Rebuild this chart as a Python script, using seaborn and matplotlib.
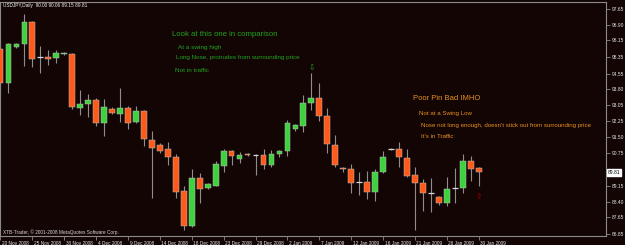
import matplotlib
matplotlib.use("Agg")
import matplotlib.pyplot as plt
import matplotlib.transforms as mtransforms
import numpy as np
import pandas as pd
import seaborn as sns

# ---------------- data ----------------
dates = [
    "2008-11-20", "2008-11-21", "2008-11-23", "2008-11-24", "2008-11-25", "2008-11-26",
    "2008-11-27", "2008-11-28", "2008-11-30", "2008-12-01", "2008-12-02", "2008-12-03",
    "2008-12-04", "2008-12-05", "2008-12-07", "2008-12-08", "2008-12-09", "2008-12-10",
    "2008-12-11", "2008-12-12", "2008-12-14", "2008-12-15", "2008-12-16", "2008-12-17",
    "2008-12-18", "2008-12-19", "2008-12-21", "2008-12-22", "2008-12-23", "2008-12-24",
    "2008-12-26", "2008-12-28", "2008-12-29", "2008-12-30", "2008-12-31", "2009-01-01",
    "2009-01-02", "2009-01-04", "2009-01-05", "2009-01-06", "2009-01-07", "2009-01-08",
    "2009-01-09", "2009-01-11", "2009-01-12", "2009-01-13", "2009-01-14", "2009-01-15",
    "2009-01-16", "2009-01-18", "2009-01-19", "2009-01-20", "2009-01-21", "2009-01-22",
    "2009-01-23", "2009-01-25", "2009-01-26", "2009-01-27", "2009-01-28", "2009-01-29",
    "2009-01-30",
]
opens = [95.73, 94.10, 95.83, 95.97, 97.03, 95.34, 95.35, 95.30, 95.49, 95.49,
         92.90, 93.09, 93.28, 92.18, 92.85, 92.61, 92.90, 92.23, 92.75, 91.36,
         91.12, 90.93, 90.54, 88.91, 87.23, 89.54, 89.06, 89.15, 90.11, 90.83,
         90.45, 90.69, 90.64, 90.64, 90.16, 90.69, 90.83, 91.89, 92.03, 93.14,
         93.38, 92.51, 91.12, 90.02, 89.97, 89.34, 89.35, 88.87, 89.83, 90.92,
         90.93, 90.50, 89.68, 89.30, 88.80, 88.63, 88.34, 89.05, 89.06, 90.35,
         90.00]
highs = [96.21, 96.02, 96.02, 97.41, 97.07, 95.87, 95.68, 95.68, 95.59, 95.54,
         93.76, 93.57, 93.38, 93.33, 92.95, 93.86, 92.99, 92.99, 92.80, 91.79,
         91.22, 91.27, 90.69, 89.15, 89.97, 89.78, 89.30, 90.35, 90.93, 90.88,
         90.79, 90.72, 90.69, 90.93, 90.88, 90.88, 92.32, 92.13, 93.52, 94.58,
         94.10, 92.90, 91.60, 90.06, 90.21, 89.83, 89.87, 89.97, 90.83, 90.98,
         91.27, 90.93, 90.06, 89.49, 89.54, 88.67, 89.59, 90.02, 90.69, 90.59,
         90.06]
lows = [93.52, 93.62, 95.78, 94.91, 94.87, 94.58, 94.96, 95.06, 95.44, 92.85,
        92.56, 92.47, 92.03, 91.55, 92.61, 92.23, 91.89, 92.18, 91.07, 88.58,
        90.74, 90.16, 88.58, 87.04, 87.18, 88.34, 89.01, 89.15, 89.83, 90.16,
        90.26, 90.59, 89.68, 89.97, 90.06, 90.54, 90.59, 91.79, 91.75, 92.80,
        92.27, 90.74, 90.06, 89.83, 88.82, 88.72, 88.53, 88.43, 89.78, 90.88,
        90.06, 89.59, 87.04, 87.95, 87.90, 88.24, 88.19, 88.34, 88.82, 89.39,
        89.15]
closes = [94.10, 95.97, 95.97, 97.03, 95.25, 95.34, 95.25, 95.54, 95.54, 92.95,
          93.09, 93.28, 92.18, 92.95, 92.66, 92.90, 92.18, 92.75, 91.41, 90.98,
          90.83, 90.54, 88.87, 87.23, 89.54, 89.01, 89.25, 90.21, 90.83, 90.59,
          90.64, 90.64, 90.64, 90.16, 90.69, 90.83, 92.18, 92.08, 93.14, 93.38,
          92.51, 91.17, 90.16, 89.97, 89.30, 89.34, 88.87, 89.83, 90.54, 90.92,
          90.54, 89.63, 89.30, 88.82, 88.80, 88.34, 89.01, 89.05, 90.35, 89.97,
          89.81]
price_ticks = [97.65, 96.90, 96.15, 95.35, 94.55, 93.80, 93.05, 92.25,
               91.50, 90.75, 89.15, 88.40, 87.65, 86.85]
symbol = "USDJPY,Daily"
last_price = closes[-1]

# ---------------- style ----------------
BG = "#140505"
UP = "#3fd23f"
DOWN = "#ff5a1a"
WICK = "#8e8e8e"
AXC = "#8a8a8a"
GREEN_TXT = "#1ea41e"
ORANGE_TXT = "#e8901e"

sns.set_theme(style="dark", rc={"axes.facecolor": BG, "figure.facecolor": BG,
                                "axes.edgecolor": AXC, "axes.grid": False})
plt.rcParams["font.family"] = ["Liberation Sans", "DejaVu Sans"]

df = pd.DataFrame({"date": pd.to_datetime(dates), "open": opens, "high": highs,
                   "low": lows, "close": closes})
df["idx"] = np.arange(len(df))

W, H = 625, 245
fig = plt.figure(figsize=(W / 100, H / 100), dpi=100)
ax = fig.add_axes([0, 9 / H, 606 / W, 234 / H])
ax.set_facecolor(BG)

# wicks
ax.vlines(df["idx"], df["low"], df["high"], color=WICK, lw=0.8, zorder=2)

# bodies
body_w = 0.72
non_doji = df[df["open"] != df["close"]]
cols = [UP if c > o else DOWN for o, c in zip(non_doji["open"], non_doji["close"])]
bottoms = np.minimum(non_doji["open"], non_doji["close"])
heights = np.maximum(np.abs(non_doji["close"] - non_doji["open"]), 0.04)
ax.bar(non_doji["idx"], heights, bottom=bottoms, width=body_w, color=cols,
       edgecolor="#b8b8b8", linewidth=0.35, zorder=3)
doji = df[df["open"] == df["close"]]
ax.hlines(doji["close"], doji["idx"] - body_w / 2, doji["idx"] + body_w / 2,
          color="#d8d8d8", lw=0.9, zorder=3)

ax.set_xlim(-0.06, 75.97)
ax.set_ylim(86.752, 97.986)

for s in ax.spines.values():
    s.set_color(AXC)
    s.set_linewidth(0.8)

# y axis on the right
ax.yaxis.tick_right()
ax.set_yticks(price_ticks)
ax.set_yticklabels([f"{v:.2f}" for v in price_ticks])
ax.tick_params(axis="y", which="both", right=True, left=False, length=3, width=0.6,
               color=AXC, labelsize=3.5, labelcolor="#e6e6e6", pad=1)

# x axis
tick_idx = df["idx"][::4]
tick_lab = [d.strftime("%-d %b %Y") for d in df["date"][::4]]
ax.set_xticks(tick_idx)
ax.set_xticklabels(tick_lab, ha="left")
ax.tick_params(axis="x", which="both", bottom=True, length=3, width=0.6, color=AXC,
               labelsize=3.4, labelcolor="#e6e6e6", pad=0.5)
offset = mtransforms.ScaledTranslation(1.5 / 100, 0, fig.dpi_scale_trans)
for lab in ax.get_xticklabels():
    lab.set_transform(lab.get_transform() + offset)

# current price box
trans = mtransforms.blended_transform_factory(ax.transAxes, ax.transData)
ax.text(1.003, last_price, f"{last_price:.2f}", transform=trans, fontsize=3.6,
        color="black", va="center", ha="left",
        bbox=dict(boxstyle="square,pad=0.15", fc="white", ec="white"))

# arrows on bars
ax.text(39, highs[39] + 0.25, "⇩", color=GREEN_TXT, fontsize=5.5, ha="center",
        va="center", family="DejaVu Sans")
ax.text(60, lows[60] - 0.5, "⇧", color="#b00000", fontsize=5.5, ha="center",
        va="center", family="DejaVu Sans")

def ftext(x, y, s, **kw):
    fig.text(x / W, 1 - y / H, s, va="center", ha="left", **kw)

ftext(3, 5.5, f"{symbol}  {opens[-1]:.2f} {highs[-1]:.2f} {lows[-1]:.2f} {closes[-1]:.2f}",
      color="#f0f0f0", fontsize=3.4)
ftext(3, 232, "XTB-Trader, © 2001-2008 MetaQuotes Software Corp.", color="#d8d8d8",
      fontsize=3.4)

ftext(172, 34, "Look at this one in comparison", color=GREEN_TXT, fontsize=5.6)
ftext(178, 48, "At a swing high", color=GREEN_TXT, fontsize=4.6)
ftext(176, 58, "Long Nose, protrudes from surrounding price", color=GREEN_TXT, fontsize=4.5)
ftext(175, 70, "Not in traffic", color=GREEN_TXT, fontsize=4.6)

ftext(413, 99, "Poor Pin Bad IMHO", color=ORANGE_TXT, fontsize=5.5)
ftext(419, 113, "Not at a Swing Low", color=ORANGE_TXT, fontsize=4.4)
ftext(421, 125, "Nose not long enough, doesn't stick out from surrounding price",
      color=ORANGE_TXT, fontsize=4.4)
ftext(421, 136, "It's in Traffic", color=ORANGE_TXT, fontsize=4.4)

fig.savefig("out.png", dpi=100, facecolor=BG)
